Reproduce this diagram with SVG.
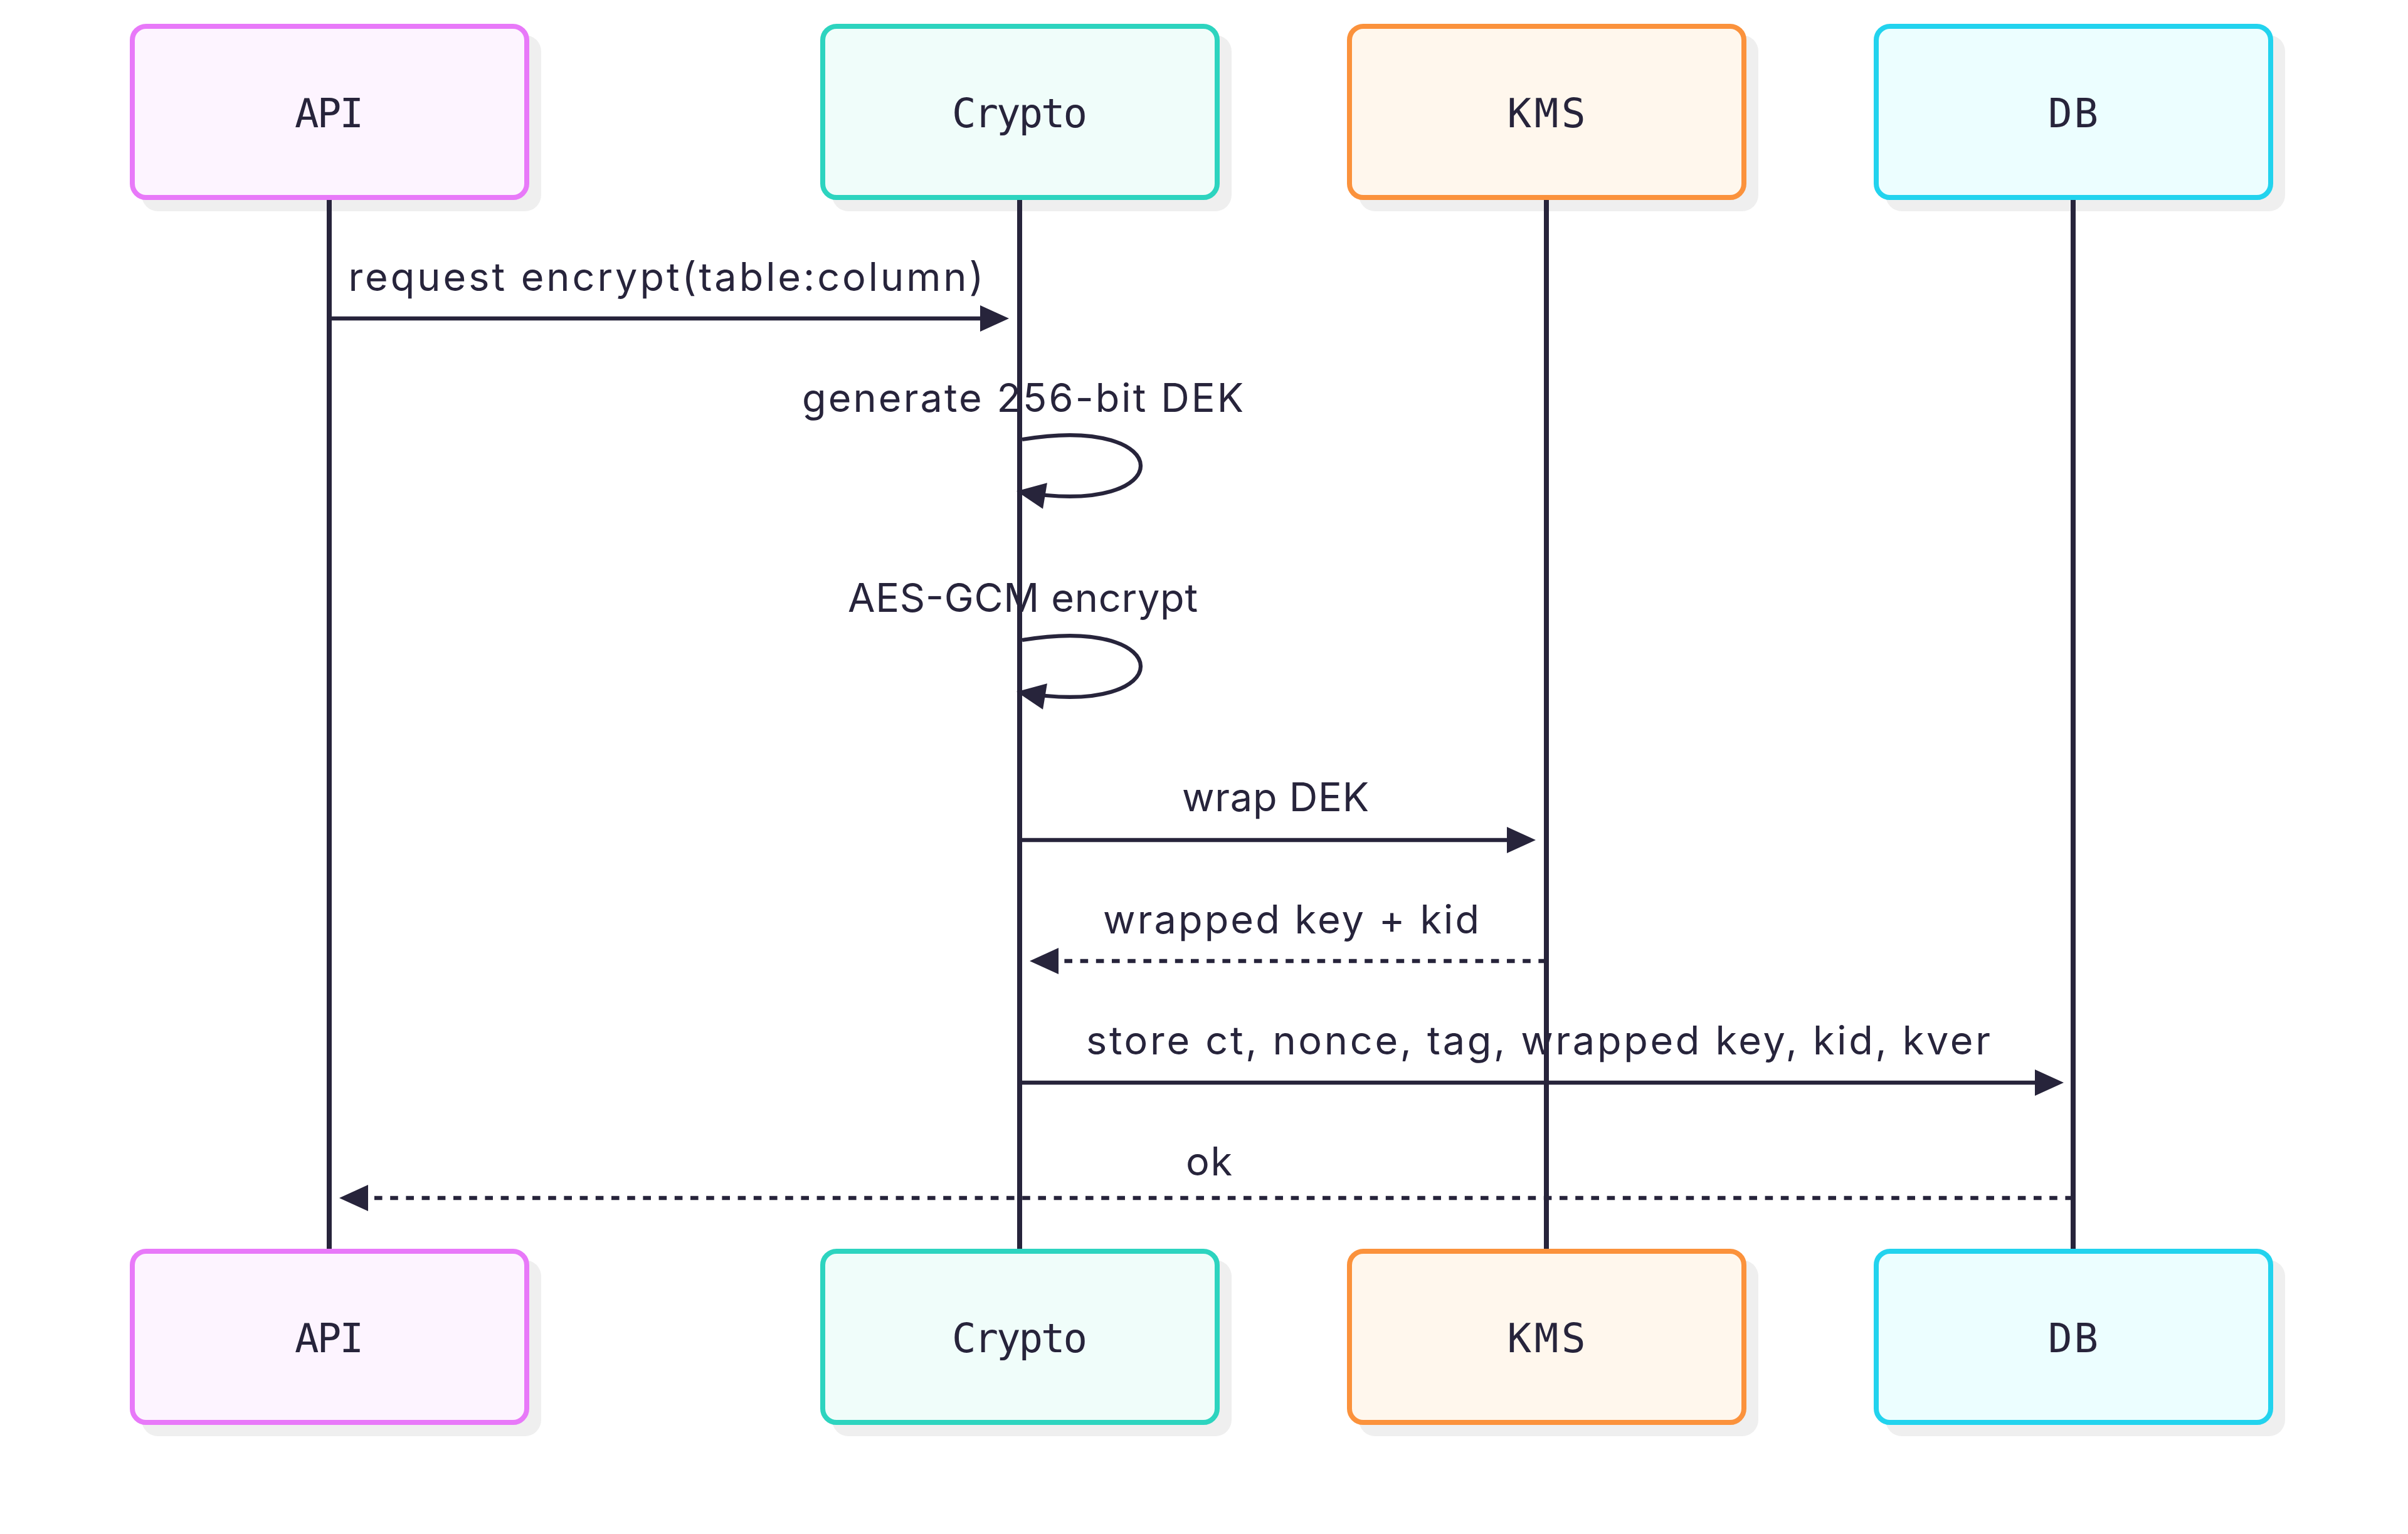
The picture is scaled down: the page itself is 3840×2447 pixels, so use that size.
<svg xmlns="http://www.w3.org/2000/svg" width="3840" height="2447" viewBox="0 0 3840 2447">
<style>
.bg{fill:#ffffff}
.shadow{fill:#efefef}
.box{stroke-width:8}
.api{fill:#fdf4ff;stroke:#e879f9}
.crypto{fill:#f0fdfa;stroke:#2dd4bf}
.kms{fill:#fff7ed;stroke:#fb923c}
.db{fill:#ecfeff;stroke:#22d3ee}
.label{font-family:"DejaVu Sans Mono","Liberation Mono",monospace;font-size:64px;fill:#27243b;text-anchor:middle}
.msg{font-family:Inter,"Open Sans","Noto Sans",sans-serif;font-size:63px;fill:#27243b;text-anchor:middle}
.life{stroke:#27243b;stroke-width:8;fill:none}
.line{stroke:#27243b;stroke-width:6.3;fill:none}
.dot{stroke-dasharray:12.6 12.6}
</style>
<defs>
<marker id="ah" markerUnits="userSpaceOnUse" markerWidth="50" markerHeight="50" refX="37" refY="21" orient="auto" overflow="visible">
<path d="M 0 0 L 46 21 L 0 42 z" fill="#27243b"/>
</marker>
</defs>
<rect class="bg" x="0" y="0" width="3840" height="2447"/>

<g id="message-labels">
<text class="msg" x="1062" y="464" textLength="1013">request encrypt(table:column)</text>
<text class="msg" x="1631" y="657" textLength="704">generate 256-bit DEK</text>
<text class="msg" x="1631" y="976" textLength="558">AES-GCM encrypt</text>
<text class="msg" x="2034" y="1294" textLength="298">wrap DEK</text>
<text class="msg" x="2059" y="1489" textLength="600">wrapped key + kid</text>
<text class="msg" x="2453" y="1682" textLength="1442">store ct, nonce, tag, wrapped key, kid, kver</text>
<text class="msg" x="1928" y="1875" textLength="74">ok</text>
</g>

<g id="api-top">
<rect class="shadow" x="226" y="56" width="637" height="281" rx="26"/>
<rect class="box api" x="211" y="42" width="629" height="273" rx="22"/>
<text class="label" x="525" y="203" textLength="110">API</text>
</g>
<g id="crypto-top">
<rect class="shadow" x="1327" y="56" width="637" height="281" rx="26"/>
<rect class="box crypto" x="1312" y="42" width="629" height="273" rx="22"/>
<text class="label" x="1626" y="203" textLength="216">Crypto</text>
</g>
<g id="kms-top">
<rect class="shadow" x="2167" y="56" width="637" height="281" rx="26"/>
<rect class="box kms" x="2152" y="42" width="629" height="273" rx="22"/>
<text class="label" x="2466" y="203" textLength="125">KMS</text>
</g>
<g id="db-top">
<rect class="shadow" x="3007" y="56" width="637" height="281" rx="26"/>
<rect class="box db" x="2992" y="42" width="629" height="273" rx="22"/>
<text class="label" x="3306" y="203" textLength="80">DB</text>
</g>

<g id="api-bottom">
<rect class="shadow" x="226" y="2010" width="637" height="281" rx="26"/>
<rect class="box api" x="211" y="1996" width="629" height="273" rx="22"/>
<text class="label" x="525" y="2157" textLength="110">API</text>
</g>
<g id="crypto-bottom">
<rect class="shadow" x="1327" y="2010" width="637" height="281" rx="26"/>
<rect class="box crypto" x="1312" y="1996" width="629" height="273" rx="22"/>
<text class="label" x="1626" y="2157" textLength="216">Crypto</text>
</g>
<g id="kms-bottom">
<rect class="shadow" x="2167" y="2010" width="637" height="281" rx="26"/>
<rect class="box kms" x="2152" y="1996" width="629" height="273" rx="22"/>
<text class="label" x="2466" y="2157" textLength="125">KMS</text>
</g>
<g id="db-bottom">
<rect class="shadow" x="3007" y="2010" width="637" height="281" rx="26"/>
<rect class="box db" x="2992" y="1996" width="629" height="273" rx="22"/>
<text class="label" x="3306" y="2157" textLength="80">DB</text>
</g>

<g id="lifelines">
<line class="life" x1="525" y1="319" x2="525" y2="1992"/>
<line class="life" x1="1626" y1="319" x2="1626" y2="1992"/>
<line class="life" x1="2466" y1="319" x2="2466" y2="1992"/>
<line class="life" x1="3306" y1="319" x2="3306" y2="1992"/>
</g>

<g id="connectors">
<line class="line" x1="525" y1="508" x2="1600" y2="508" marker-end="url(#ah)"/>
<path class="line" d="M 1630,701 C 1882,659 1882,827 1630,785" marker-end="url(#ah)"/>
<path class="line" d="M 1630,1021 C 1882,979 1882,1147 1630,1105" marker-end="url(#ah)"/>
<line class="line" x1="1626" y1="1340" x2="2440" y2="1340" marker-end="url(#ah)"/>
<line class="line dot" x1="2466" y1="1533" x2="1651" y2="1533" marker-end="url(#ah)"/>
<line class="line" x1="1626" y1="1727" x2="3282" y2="1727" marker-end="url(#ah)"/>
<line class="line dot" x1="3306" y1="1911" x2="550" y2="1911" marker-end="url(#ah)"/>
</g>
</svg>
